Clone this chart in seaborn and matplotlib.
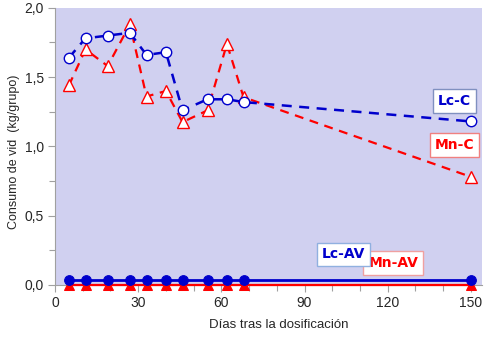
import matplotlib
matplotlib.use("Agg")
import matplotlib.pyplot as plt
import seaborn as sns
import pandas as pd
from matplotlib.ticker import MultipleLocator, FuncFormatter

days = [5, 11, 19, 27, 33, 40, 46, 55, 62, 68, 150]
lc_c = [1.64, 1.78, 1.80, 1.82, 1.66, 1.68, 1.26, 1.34, 1.34, 1.32, 1.18]
mn_c = [1.44, 1.70, 1.58, 1.88, 1.36, 1.40, 1.175, 1.26, 1.74, 1.355, 0.78]
lc_av = [0.035] * 11
mn_av = [0.0] * 11

sns.set_theme(style="white")
plt.rcParams['font.family'] = ['Liberation Sans', 'DejaVu Sans']

fig = plt.figure(figsize=(5.0, 3.42), dpi=100)
ax = fig.add_axes([0.11, 0.167, 0.854, 0.810])
ax.set_facecolor('#D0D0F0')

blue = '#0000CC'
red = '#FF0000'

df = pd.DataFrame({'dia': days, 'lc_c': lc_c, 'mn_c': mn_c, 'lc_av': lc_av, 'mn_av': mn_av})

sns.lineplot(data=df, x='dia', y='mn_av', ax=ax, color=red, lw=1.6, marker='^',
             markersize=7, markerfacecolor=red, markeredgecolor=red, clip_on=False, zorder=3)
sns.lineplot(data=df, x='dia', y='lc_av', ax=ax, color=blue, lw=2.0, marker='o',
             markersize=7, markerfacecolor=blue, markeredgecolor=blue, clip_on=False, zorder=4)
sns.lineplot(data=df, x='dia', y='mn_c', ax=ax, color=red, lw=1.6, marker='^',
             markersize=8.5, markerfacecolor='white', markeredgecolor=red, markeredgewidth=1.0,
             linestyle=(0, (4, 3)), clip_on=False, zorder=5)
sns.lineplot(data=df, x='dia', y='lc_c', ax=ax, color=blue, lw=1.8, marker='o',
             markersize=7.5, markerfacecolor='white', markeredgecolor=blue, markeredgewidth=1.0,
             linestyle=(0, (4, 3)), clip_on=False, zorder=6)

ax.set_xlim(0, 154)
ax.set_ylim(0, 2.0)
ax.xaxis.set_major_locator(MultipleLocator(30))
ax.xaxis.set_minor_locator(MultipleLocator(10))
ax.yaxis.set_major_locator(MultipleLocator(0.5))
ax.yaxis.set_minor_locator(MultipleLocator(0.25))
ax.yaxis.set_major_formatter(FuncFormatter(lambda v, p: f"{v:.1f}".replace('.', ',')))

for s in ['top', 'right']:
    ax.spines[s].set_visible(False)
for s in ['left', 'bottom']:
    ax.spines[s].set_color('#A0A0A0')
    ax.spines[s].set_linewidth(0.8)

ax.tick_params(which='both', direction='out', color='#A0A0A0', labelsize=10, pad=3)
ax.tick_params(which='major', length=5, width=0.8)
ax.tick_params(which='minor', length=4, width=0.8)
ax.tick_params(axis='x', which='both', bottom=True)
ax.tick_params(axis='y', which='both', left=True)

ax.set_xlabel('Días tras la dosificación', fontsize=9.5)
ax.set_ylabel('Consumo de vid  (kg/grupo)', fontsize=9)
ax.xaxis.label.set_va('center')
ax.yaxis.label.set_va('center')
ax.xaxis.set_label_coords(0.523, -0.144)
ax.yaxis.set_label_coords(-0.096, 0.48)

def tag(x, y, s, c, ec, z):
    ax.text(x, y, s, color=c, fontsize=10, fontweight='bold', family=['DejaVu Sans'],
            ha='center', va='center', zorder=z,
            bbox=dict(boxstyle='square,pad=0.35', fc='white', ec=ec, lw=1.0))

tag(144, 1.33, 'Lc-C', blue, '#8090C0', 10)
tag(144, 1.01, 'Mn-C', red, '#F08080', 10)
tag(122, 0.16, 'Mn-AV', red, '#F0A0A0', 10)
tag(104, 0.22, 'Lc-AV', blue, '#90B0E0', 11)

fig.savefig('out.png', dpi=100)
